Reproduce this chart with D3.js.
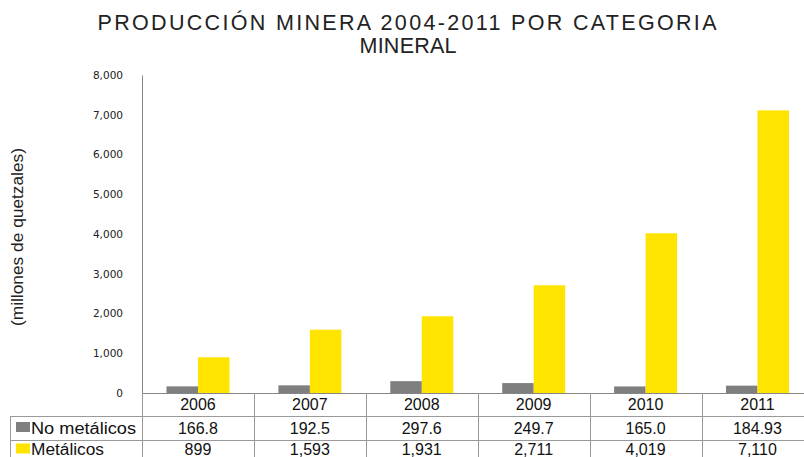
<!DOCTYPE html>
<html>
<head>
<meta charset="utf-8">
<script src="https://cdn.jsdelivr.net/npm/d3@7"></script>
<style>
  html, body { margin: 0; padding: 0; background: #fff; }
  svg { display: block; }
</style>
</head>
<body>
<svg id="chart" width="804" height="457"></svg>
<script>
// ---- data ----
const years = ["2006", "2007", "2008", "2009", "2010", "2011"];
const noMetalicos = [166.8, 192.5, 297.6, 249.7, 165.0, 184.93];
const noMetalicosLabels = ["166.8", "192.5", "297.6", "249.7", "165.0", "184.93"];
const metalicos = [899, 1593, 1931, 2711, 4019, 7110];
const yTicks = [0, 1000, 2000, 3000, 4000, 5000, 6000, 7000, 8000];
const seriesNames = ["No metálicos", "Metálicos"];
const seriesColors = ["#7f7f7f", "#ffe400"];
const titleLines = ["PRODUCCIÓN MINERA 2004-2011 POR CATEGORIA", "MINERAL"];
const yTitle = "(millones de quetzales)";

(function () {
// ---- layout ----
const svg = d3.select("#chart");
const font = "'Liberation Sans', Arial, sans-serif";
const plotLeft = 142, band = 111.9, plotTop = 75, base = 393;
const tableLines = [416, 440, 464];
const headerLeft = 10;

const x = d3.scaleBand().domain(years).range([plotLeft, plotLeft + band * years.length]).padding(0);
const inner = d3.scaleBand().domain([0, 1]).range([24.5, 87.5]).padding(0);
const y = d3.scaleLinear().domain([0, 8000]).range([base, plotTop]);

// title
svg.append("text").attr("x", 407).attr("y", 30)
  .attr("text-anchor", "middle").attr("font-family", font).attr("font-size", 21.5)
  .attr("fill", "#222").attr("textLength", 619).attr("lengthAdjust", "spacing")
  .text(titleLines[0]);
svg.append("text").attr("x", 408).attr("y", 53)
  .attr("text-anchor", "middle").attr("font-family", font).attr("font-size", 21.5)
  .attr("fill", "#222").attr("textLength", 97).attr("lengthAdjust", "spacing")
  .text(titleLines[1]);

// y axis title
svg.append("text")
  .attr("transform", "translate(23,237) rotate(-90)")
  .attr("text-anchor", "middle").attr("font-family", font).attr("font-size", 16)
  .attr("fill", "#222").attr("textLength", 178).attr("lengthAdjust", "spacingAndGlyphs")
  .text(yTitle);

// y axis
const yAxis = svg.append("g").attr("transform", `translate(${plotLeft},0)`)
  .call(d3.axisLeft(y).tickValues(yTicks).tickSize(0).tickSizeOuter(0).tickPadding(19)
    .tickFormat(d3.format(",")));
yAxis.select(".domain").attr("stroke", "#868686");
yAxis.selectAll("text").attr("font-family", "'DejaVu Sans', Verdana, sans-serif")
  .attr("font-size", 10.5).attr("fill", "#222");

// bars
const series = [noMetalicos, metalicos];
series.forEach((vals, si) => {
  svg.append("g").selectAll("rect").data(vals).join("rect")
    .attr("x", (d, i) => x(years[i]) + inner(si))
    .attr("width", inner.bandwidth())
    .attr("y", d => y(d))
    .attr("height", d => y(0) - y(d))
    .attr("fill", seriesColors[si]);
});

// table grid
const grid = svg.append("g").attr("stroke", "#9a9a9a").attr("stroke-width", 1).attr("fill", "none");
const plotRight = plotLeft + band * years.length;
grid.append("line").attr("x1", plotLeft).attr("x2", plotRight).attr("y1", base + 0.5).attr("y2", base + 0.5).attr("stroke", "#868686");
tableLines.forEach(ly => {
  grid.append("line").attr("x1", headerLeft).attr("x2", plotRight).attr("y1", ly + 0.5).attr("y2", ly + 0.5);
});
years.concat(["end"]).forEach((yr, i) => {
  const lx = Math.round(plotLeft + band * i) + 0.5;
  grid.append("line").attr("x1", lx).attr("x2", lx).attr("y1", base).attr("y2", 464);
});
grid.append("line").attr("x1", headerLeft + 0.5).attr("x2", headerLeft + 0.5).attr("y1", tableLines[0]).attr("y2", 464);

// table text
const cellText = (g, data, ty) => g.selectAll("text").data(data).join("text")
  .attr("x", (d, i) => x(years[i]) + band / 2).attr("y", ty)
  .attr("text-anchor", "middle").attr("font-family", font).attr("font-size", 16)
  .attr("fill", "#111").text(d => d);

cellText(svg.append("g"), years, 410);
cellText(svg.append("g"), noMetalicosLabels, 433.5);
cellText(svg.append("g"), metalicos.map(d3.format(",")), 455);

// legend keys in header column
const rowBase = [433.5, 455];
seriesNames.forEach((name, si) => {
  svg.append("rect").attr("x", 16).attr("y", rowBase[si] - 11.5).attr("width", 14).attr("height", 10)
    .attr("fill", seriesColors[si]);
  svg.append("text").attr("x", 31).attr("y", rowBase[si])
    .attr("font-family", font).attr("font-size", 16).attr("fill", "#111")
    .attr("textLength", si === 0 ? 105 : 73).attr("lengthAdjust", "spacingAndGlyphs")
    .text(name);
});
})();
</script>
</body>
</html>
